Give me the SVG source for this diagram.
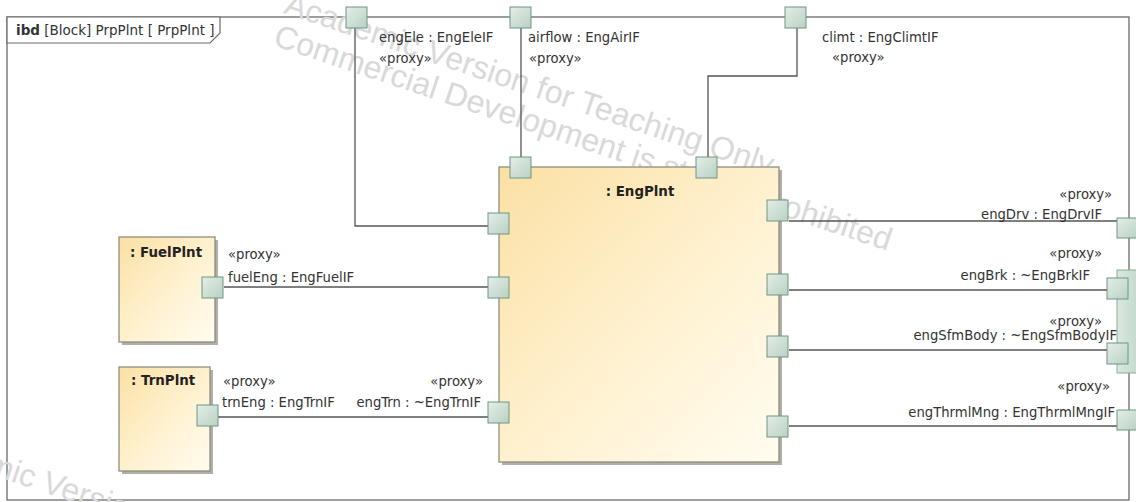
<svg xmlns="http://www.w3.org/2000/svg" width="1136" height="502" viewBox="0 0 1136 502">
<defs>
<linearGradient id="blk" x1="0" y1="0" x2="1" y2="1">
<stop offset="0" stop-color="#fbe0a4"/>
<stop offset="0.55" stop-color="#fff2d2"/>
<stop offset="1" stop-color="#fffcf0"/>
</linearGradient>
<linearGradient id="prt" x1="0" y1="0" x2="1" y2="1">
<stop offset="0" stop-color="#e4eee8"/>
<stop offset="1" stop-color="#b9d1c3"/>
</linearGradient>
<linearGradient id="grp" x1="0" y1="0" x2="1" y2="0">
<stop offset="0" stop-color="#d9e8df"/>
<stop offset="1" stop-color="#c2d8cb"/>
</linearGradient>
</defs>
<style>
.frame{fill:#fff;stroke:#6a6a6a;stroke-width:1.3}
.tab{fill:#fff;stroke:#6a6a6a;stroke-width:1.2}
.wm{fill:#d9d9d9;font-family:"Liberation Sans",Arial,sans-serif;font-size:32px}
.shadow{fill:#b0b0a8}
.block{fill:url(#blk);stroke:#8e8e7c;stroke-width:1.3}
.port{fill:url(#prt);stroke:#6f9682;stroke-width:1}
.conn{fill:none;stroke:#555;stroke-width:1.3}
.lbl{fill:#333;font-family:"DejaVu Sans",Verdana,sans-serif;font-size:13.2px}
.r{text-anchor:end}
.title{fill:#222;font-family:"DejaVu Sans",Verdana,sans-serif;font-size:13.4px;font-weight:bold}
</style>
<rect width="1136" height="502" fill="#fff"/>
<g id="frame">
<rect class="frame" x="7" y="17" width="1122" height="483"/>
</g>
<g id="watermark">
<g transform="translate(272,45) rotate(18.5)">
<text class="wm" x="0" y="-34">Academic Version for Teaching Only</text>
<text class="wm" x="0" y="0">Commercial Development is strictly prohibited</text>
</g>
<g transform="translate(-112,476) rotate(18.5)">
<text class="wm" x="0" y="-34">Academic Version for Teaching Only</text>
</g>
</g>
<g id="frame-header">
<path class="tab" d="M7,17 H220 V33 L210,43 H7 Z"/>
<text class="lbl" x="16" y="35" style="font-size:13.5px"><tspan font-weight="bold">ibd</tspan> [Block] PrpPlnt [ PrpPlnt ]</text>
</g>
<g id="connectors">
<path class="conn" d="M355,28 V226 H488"/>
<path class="conn" d="M521,28 V157"/>
<path class="conn" d="M797,28 V76 H708 V157"/>
<path class="conn" d="M224,287 H488"/>
<path class="conn" d="M218,417 H488"/>
<path class="conn" d="M789,221 H1117"/>
<path class="conn" d="M789,290 H1107"/>
<path class="conn" d="M789,350 H1107"/>
<path class="conn" d="M789,426 H1117"/>
</g>
<g id="EngPlnt">
<rect class="shadow" x="502" y="170" width="280" height="295"/>
<rect class="block" x="499" y="167" width="280" height="295"/>
<text class="title" x="640" y="196" text-anchor="middle">: EngPlnt</text>
<rect class="port" x="510" y="157" width="21" height="21"/>
<rect class="port" x="696" y="157" width="21" height="21"/>
<rect class="port" x="488" y="213" width="21" height="21"/>
<rect class="port" x="488" y="277" width="21" height="21"/>
<rect class="port" x="488" y="402" width="21" height="21"/>
<rect class="port" x="767" y="200" width="21" height="21"/>
<rect class="port" x="767" y="274" width="21" height="21"/>
<rect class="port" x="767" y="336" width="21" height="21"/>
<rect class="port" x="767" y="416" width="21" height="21"/>
</g>
<g id="FuelPlnt">
<rect class="shadow" x="122" y="240" width="96" height="105"/>
<rect class="block" x="119" y="237" width="96" height="105"/>
<text class="title" x="130" y="257">: FuelPlnt</text>
<rect class="port" x="202" y="277" width="21" height="21"/>
</g>
<g id="TrnPlnt">
<rect class="shadow" x="122" y="370" width="91" height="104"/>
<rect class="block" x="119" y="367" width="91" height="104"/>
<text class="title" x="131" y="385">: TrnPlnt</text>
<rect class="port" x="197" y="405" width="21" height="21"/>
</g>
<g id="frame-ports">
<rect x="1117" y="270" width="23" height="103" fill="url(#grp)" stroke="#8aab98" stroke-width="1"/>
<rect class="port" x="346" y="7" width="21" height="21"/>
<rect class="port" x="510" y="7" width="21" height="21"/>
<rect class="port" x="785" y="7" width="21" height="21"/>
<rect class="port" x="1117" y="218" width="21" height="20"/>
<rect class="port" x="1107" y="278" width="21" height="21"/>
<rect class="port" x="1107" y="343" width="21" height="21"/>
<rect class="port" x="1117" y="410" width="21" height="20"/>
</g>
<g id="labels">
<text class="lbl" x="379" y="42">engEle : EngEleIF</text>
<text class="lbl" x="379" y="63">«proxy»</text>
<text class="lbl" x="528" y="42">airflow : EngAirIF</text>
<text class="lbl" x="529" y="63">«proxy»</text>
<text class="lbl" x="822" y="42">climt : EngClimtIF</text>
<text class="lbl" x="832" y="62">«proxy»</text>
<text class="lbl r" x="1112" y="199">«proxy»</text>
<text class="lbl r" x="1102" y="219">engDrv : EngDrvIF</text>
<text class="lbl r" x="1102" y="258">«proxy»</text>
<text class="lbl r" x="1090" y="280">engBrk : ~EngBrkIF</text>
<text class="lbl r" x="1102" y="326">«proxy»</text>
<text class="lbl r" x="1117" y="340">engSfmBody : ~EngSfmBodyIF</text>
<text class="lbl r" x="1110" y="391">«proxy»</text>
<text class="lbl r" x="1115" y="417">engThrmlMng : EngThrmlMngIF</text>
<text class="lbl" x="228" y="259">«proxy»</text>
<text class="lbl" x="228" y="282">fuelEng : EngFuelIF</text>
<text class="lbl" x="223" y="386">«proxy»</text>
<text class="lbl" x="222" y="407">trnEng : EngTrnIF</text>
<text class="lbl r" x="483" y="386">«proxy»</text>
<text class="lbl r" x="481" y="407">engTrn : ~EngTrnIF</text>
</g>
</svg>
